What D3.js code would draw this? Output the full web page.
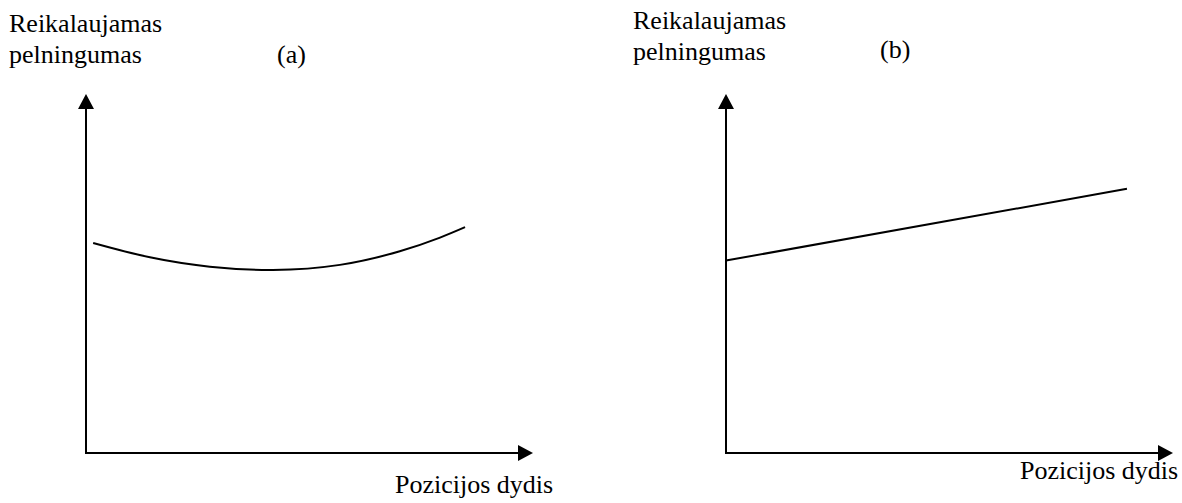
<!DOCTYPE html>
<html>
<head>
<meta charset="utf-8">
<script src="https://cdn.jsdelivr.net/npm/d3@7"></script>
<style>
  html, body { margin: 0; padding: 0; background: #fff; }
  svg { display: block; }
  text { font-family: "Liberation Serif", "Tinos", "Times New Roman", Times, "DejaVu Serif", serif; font-size: 26px; fill: #000; }
</style>
</head>
<body>
<svg id="chart" width="1182" height="503"></svg>
<script>
(function () {
  "use strict";

  // panel labels and texts
  const panelTags = ["(a)", "(b)"];
  const yLabelLines = ["Reikalaujamas", "pelningumas"];
  const xLabel = "Pozicijos dydis";

  // values in abstract units (position size, required return)
  const curveA = [
    [0.16, 5.85], [1.43, 5.45], [2.77, 5.19], [4.18, 5.1], [5.68, 5.24],
    [7.02, 5.62], [7.92, 6.0], [8.48, 6.29]
  ];
  const lineB = [
    [0, 5.36], [8.97, 7.36]
  ];

  const svg = d3.select("#chart");

  const panels = [
    { tag: panelTags[0], data: curveA, curve: d3.curveNatural, left: 86, labelX: 9, tagX: 277, tagY: 63, labelY: 32, xLabelX: 395, xLabelY: 493 },
    { tag: panelTags[1], data: lineB, curve: d3.curveLinear, left: 726, labelX: 633, tagX: 880, tagY: 58, labelY: 29, xLabelX: 1020, xLabelY: 479 }
  ];

  const top = 94, bottom = 453, axisLen = 447;
  const arrowLen = 15, arrowHalf = 8;

  panels.forEach(p => {
    const x = d3.scaleLinear().domain([0, 10]).range([p.left, p.left + axisLen]);
    const y = d3.scaleLinear().domain([0, 10]).range([bottom, top]);
    const g = svg.append("g");

    // y axis with arrow
    g.append("line")
      .attr("x1", x(0)).attr("y1", y(0))
      .attr("x2", x(0)).attr("y2", y(10) + arrowLen - 1)
      .attr("stroke", "#000").attr("stroke-width", 2);
    g.append("path")
      .attr("d", `M${x(0)},${y(10)} L${x(0) - arrowHalf},${y(10) + arrowLen} L${x(0) + arrowHalf},${y(10) + arrowLen} Z`)
      .attr("fill", "#000");

    // x axis with arrow
    g.append("line")
      .attr("x1", x(0) - 1).attr("y1", y(0))
      .attr("x2", x(10) - arrowLen + 1).attr("y2", y(0))
      .attr("stroke", "#000").attr("stroke-width", 2);
    g.append("path")
      .attr("d", `M${x(10)},${y(0)} L${x(10) - arrowLen},${y(0) - arrowHalf} L${x(10) - arrowLen},${y(0) + arrowHalf} Z`)
      .attr("fill", "#000");

    // the relationship
    const line = d3.line()
      .x(d => x(d[0]))
      .y(d => y(d[1]))
      .curve(p.curve);
    g.append("path")
      .datum(p.data)
      .attr("d", line)
      .attr("fill", "none")
      .attr("stroke", "#000")
      .attr("stroke-width", 2);

    // labels
    g.selectAll("text.ylab")
      .data(yLabelLines)
      .join("text")
      .attr("class", "ylab")
      .attr("x", p.labelX)
      .attr("y", (d, i) => p.labelY + i * 31)
      .text(d => d);
    g.append("text")
      .attr("x", p.tagX)
      .attr("y", p.tagY)
      .text(p.tag);
    g.append("text")
      .attr("x", p.xLabelX)
      .attr("y", p.xLabelY)
      .text(xLabel);
  });
})();
</script>
</body>
</html>
